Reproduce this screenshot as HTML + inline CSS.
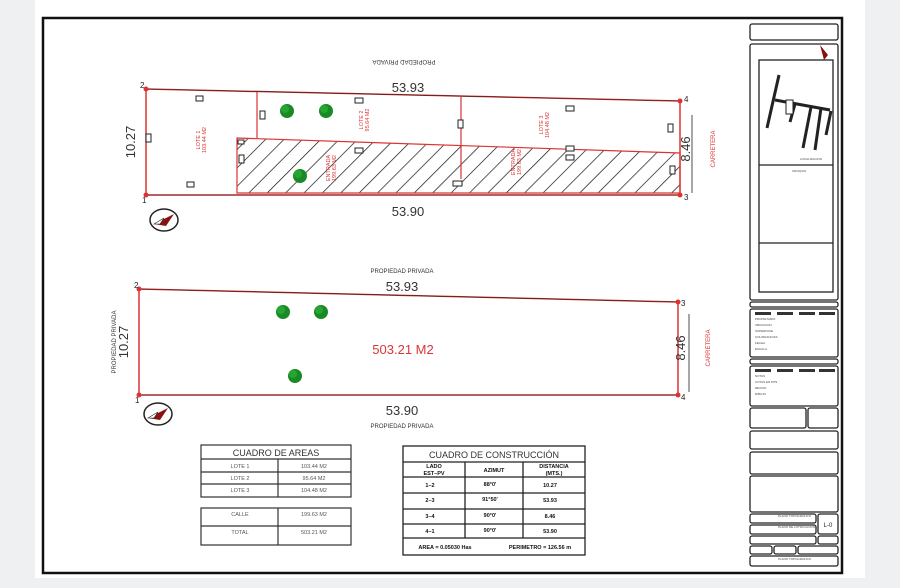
<!DOCTYPE html>
<html><head><style>
body{margin:0;width:900px;height:583px;background:#eef0f2;overflow:hidden;font-family:"Liberation Sans",sans-serif}
</style></head><body>
<svg width="900" height="583" viewBox="0 0 900 583" xmlns="http://www.w3.org/2000/svg" font-family="Liberation Sans, sans-serif">
<defs>
<pattern id="h" width="13" height="13" patternUnits="userSpaceOnUse" patternTransform="rotate(45)">
<line x1="0" y1="0" x2="0" y2="13" stroke="#111" stroke-width="1.4"/></pattern>
<g id="tree"><circle r="7" fill="#1a8a26"/><circle r="4" cx="-2" cy="-2" fill="#27a532"/></g>
<g id="comp"><ellipse rx="14" ry="11" fill="#fff" stroke="#222" stroke-width="1.5"/><path d="M-10 4 L10 -6 L2 6 Z" fill="#8b1010"/><path d="M-10 4 L0 -2 L-4 4Z" fill="#fff" stroke="#222" stroke-width=".6"/></g>
</defs>
<rect x="35" y="0" width="830" height="578" fill="#fff"/>
<rect x="43" y="18" width="799" height="555" fill="none" stroke="#111" stroke-width="2.5"/>

<!-- top drawing -->
<text x="404" y="64" font-size="6" text-anchor="middle" fill="#333" transform="rotate(180 404 62)">PROPIEDAD PRIVADA</text>
<polygon points="237,138 680,153 680,193 237,193" fill="url(#h)" stroke="#d33" stroke-width="1.2"/>
<polygon points="146,89 680,101 680,195 146,195" fill="none" stroke="#d33" stroke-width="1.5"/>
<line x1="146" y1="89" x2="680" y2="101" stroke="#222" stroke-width=".6"/>
<line x1="257" y1="92" x2="257" y2="138" stroke="#d33" stroke-width="1.2"/>
<line x1="461" y1="97" x2="461" y2="179" stroke="#d33" stroke-width="1.2"/>
<line x1="146" y1="195" x2="680" y2="195" stroke="#222" stroke-width=".6"/>
<line x1="692" y1="115" x2="692" y2="193" stroke="#222" stroke-width=".8"/>
<g fill="#d33"><circle cx="146" cy="89" r="2.5"/><circle cx="680" cy="101" r="2.5"/><circle cx="680" cy="195" r="2.5"/><circle cx="146" cy="195" r="2.5"/></g>
<g font-size="8" fill="#222"><text x="140" y="88">2</text><text x="684" y="102">4</text><text x="684" y="200">3</text><text x="142" y="203">1</text></g>
<text x="408" y="92" font-size="13" text-anchor="middle" fill="#333">53.93</text>
<text x="408" y="216" font-size="13" text-anchor="middle" fill="#333">53.90</text>
<text x="135" y="142" font-size="13" text-anchor="middle" fill="#333" transform="rotate(-90 135 142)">10.27</text>
<text x="690" y="149" font-size="13" text-anchor="middle" fill="#333" transform="rotate(-90 690 149)">8.46</text>
<text x="715" y="149" font-size="6" text-anchor="middle" fill="#d33" transform="rotate(-90 715 149)">CARRETERA</text>
<g font-size="5.5" fill="#d33" text-anchor="middle">
<text transform="translate(200,140) rotate(-90)">LOTE 1<tspan x="0" dy="6">103.44 M2</tspan></text>
<text transform="translate(363,120) rotate(-90)">LOTE 2<tspan x="0" dy="6">95.64 M2</tspan></text>
<text transform="translate(543,125) rotate(-90)">LOTE 3<tspan x="0" dy="6">104.48 M2</tspan></text>
<text transform="translate(330,168) rotate(-90)">ENTRADA<tspan x="0" dy="6">199.63 M2</tspan></text>
<text transform="translate(515,162) rotate(-90)">ENTRADA<tspan x="0" dy="6">199.63 M2</tspan></text>
</g>
<g fill="#fff" stroke="#222" stroke-width="1">
<rect x="196" y="96" width="7" height="5"/><rect x="146" y="134" width="5" height="8"/><rect x="187" y="182" width="7" height="5"/>
<rect x="260" y="111" width="5" height="8"/><rect x="355" y="98" width="8" height="5"/><rect x="355" y="148" width="8" height="5"/>
<rect x="238" y="140" width="6" height="4"/><rect x="239" y="155" width="5" height="8"/><rect x="458" y="120" width="5" height="8"/>
<rect x="453" y="181" width="9" height="5"/><rect x="566" y="106" width="8" height="5"/><rect x="566" y="146" width="8" height="5"/>
<rect x="566" y="155" width="8" height="5"/><rect x="668" y="124" width="5" height="8"/><rect x="670" y="166" width="5" height="8"/>
</g>
<use href="#tree" x="287" y="111"/><use href="#tree" x="326" y="111"/><use href="#tree" x="300" y="176"/>
<use href="#comp" x="164" y="220"/>

<!-- bottom drawing -->
<text x="402" y="273" font-size="6" text-anchor="middle" fill="#333">PROPIEDAD PRIVADA</text>
<polygon points="139,289 678,302 678,395 139,395" fill="none" stroke="#d33" stroke-width="1.5"/>
<line x1="139" y1="289" x2="678" y2="302" stroke="#222" stroke-width=".6"/>
<line x1="139" y1="395" x2="678" y2="395" stroke="#222" stroke-width=".6"/>
<line x1="689" y1="314" x2="689" y2="392" stroke="#222" stroke-width=".8"/>
<g fill="#d33"><circle cx="139" cy="289" r="2.5"/><circle cx="678" cy="302" r="2.5"/><circle cx="678" cy="395" r="2.5"/><circle cx="139" cy="395" r="2.5"/></g>
<g font-size="8" fill="#222"><text x="134" y="288">2</text><text x="681" y="306">3</text><text x="681" y="400">4</text><text x="135" y="403">1</text></g>
<text x="402" y="291" font-size="13" text-anchor="middle" fill="#333">53.93</text>
<text x="402" y="415" font-size="13" text-anchor="middle" fill="#333">53.90</text>
<text x="402" y="428" font-size="6" text-anchor="middle" fill="#333">PROPIEDAD PRIVADA</text>
<text x="128" y="342" font-size="13" text-anchor="middle" fill="#333" transform="rotate(-90 128 342)">10.27</text>
<text x="116" y="342" font-size="6" text-anchor="middle" fill="#333" transform="rotate(-90 116 342)">PROPIEDAD PRIVADA</text>
<text x="685" y="348" font-size="13" text-anchor="middle" fill="#333" transform="rotate(-90 685 348)">8.46</text>
<text x="710" y="348" font-size="6" text-anchor="middle" fill="#d33" transform="rotate(-90 710 348)">CARRETERA</text>
<text x="403" y="354" font-size="13" text-anchor="middle" fill="#d33">503.21 M2</text>
<use href="#tree" x="283" y="312"/><use href="#tree" x="321" y="312"/><use href="#tree" x="295" y="376"/>
<use href="#comp" x="158" y="414"/>

<!-- areas tables -->
<g fill="none" stroke="#333" stroke-width="1.2">
<rect x="201" y="445" width="150" height="52"/><line x1="201" y1="459" x2="351" y2="459"/><line x1="201" y1="472" x2="351" y2="472"/><line x1="201" y1="484" x2="351" y2="484"/><line x1="278" y1="459" x2="278" y2="497"/>
<rect x="201" y="508" width="150" height="37"/><line x1="201" y1="526" x2="351" y2="526"/><line x1="278" y1="508" x2="278" y2="545"/>
</g>
<g font-size="5.5" fill="#555" text-anchor="middle">
<text x="276" y="456" font-size="9" fill="#333">CUADRO DE AREAS</text>
<text x="240" y="468">LOTE 1</text><text x="314" y="468">103.44 M2</text>
<text x="240" y="480">LOTE 2</text><text x="314" y="480">95.64 M2</text>
<text x="240" y="492">LOTE 3</text><text x="314" y="492">104.48 M2</text>
<text x="240" y="516">CALLE</text><text x="314" y="516">199.63 M2</text>
<text x="240" y="534">TOTAL</text><text x="314" y="534">503.21 M2</text>
</g>
<g fill="none" stroke="#222" stroke-width="1.3">
<rect x="403" y="446" width="182" height="109"/>
<line x1="403" y1="462" x2="585" y2="462"/><line x1="403" y1="477" x2="585" y2="477"/><line x1="403" y1="493" x2="585" y2="493"/>
<line x1="403" y1="509" x2="585" y2="509"/><line x1="403" y1="524" x2="585" y2="524"/><line x1="403" y1="538" x2="585" y2="538"/>
<line x1="465" y1="462" x2="465" y2="538"/><line x1="523" y1="462" x2="523" y2="538"/>
</g>
<g font-size="5.5" fill="#111" font-weight="bold" text-anchor="middle">
<text x="494" y="458" font-size="9" font-weight="normal" fill="#333">CUADRO DE CONSTRUCCIÓN</text>
<text x="434" y="468">LADO</text><text x="434" y="475">EST–PV</text><text x="494" y="472">AZIMUT</text><text x="554" y="468">DISTANCIA</text><text x="554" y="475">(MTS.)</text>
<text x="430" y="487">1–2</text><text x="490" y="486">88°0'</text><text x="550" y="487">10.27</text>
<text x="430" y="502">2–3</text><text x="490" y="501">91°50'</text><text x="550" y="502">53.93</text>
<text x="430" y="518">3–4</text><text x="490" y="517">90°0'</text><text x="550" y="518">8.46</text>
<text x="430" y="533">4–1</text><text x="490" y="532">90°0'</text><text x="550" y="533">53.90</text>
<text x="445" y="549">AREA = 0.05030 Has</text><text x="540" y="549">PERIMETRO = 126.56 m</text>
</g>

<!-- title block -->
<g fill="none" stroke="#222" stroke-width="1.3">
<rect x="750" y="24" width="88" height="16" rx="2"/>
<rect x="750" y="44" width="88" height="256" rx="2"/>
<rect x="759" y="60" width="74" height="232"/>
<line x1="759" y1="165" x2="833" y2="165"/><line x1="759" y1="243" x2="833" y2="243"/>
<rect x="750" y="302" width="88" height="5" rx="2"/>
<rect x="750" y="309" width="88" height="48" rx="2"/>
<rect x="750" y="359" width="88" height="5" rx="2"/>
<rect x="750" y="366" width="88" height="40" rx="2"/>
<rect x="750" y="408" width="56" height="20" rx="2"/><rect x="808" y="408" width="30" height="20" rx="2"/>
<rect x="750" y="431" width="88" height="18" rx="2"/>
<rect x="750" y="452" width="88" height="22" rx="2"/>
<rect x="750" y="476" width="88" height="36" rx="2"/>
<rect x="750" y="514" width="66" height="9" rx="2"/><rect x="750" y="525" width="66" height="9" rx="2"/>
<rect x="818" y="514" width="20" height="20" rx="2"/>
<rect x="750" y="536" width="66" height="8" rx="2"/><rect x="818" y="536" width="20" height="8" rx="2"/>
<rect x="750" y="546" width="22" height="8" rx="2"/><rect x="774" y="546" width="22" height="8" rx="2"/><rect x="798" y="546" width="40" height="8" rx="2"/>
<rect x="750" y="556" width="88" height="10" rx="2"/>
</g>
<g stroke="#222" stroke-width="3">
<line x1="779" y1="75" x2="767" y2="128"/><line x1="775" y1="100" x2="830" y2="110"/>
<line x1="795" y1="104" x2="790" y2="122"/><line x1="811" y1="107" x2="803" y2="148"/><line x1="821" y1="108" x2="815" y2="150"/><line x1="831" y1="111" x2="826" y2="135"/>
</g>
<rect x="786" y="100" width="7" height="14" fill="#fff" stroke="#222"/>
<path d="M820 45 L828 55 L824 60 Z" fill="#8b1010"/>
<g fill="#333">
<rect x="755" y="312" width="16" height="3"/><rect x="777" y="312" width="16" height="3"/><rect x="799" y="312" width="16" height="3"/><rect x="819" y="312" width="16" height="3"/>
<rect x="755" y="369" width="16" height="3"/><rect x="777" y="369" width="16" height="3"/><rect x="799" y="369" width="16" height="3"/><rect x="819" y="369" width="16" height="3"/>
</g>
<g font-size="3" fill="#444">
<text x="755" y="320">PROPIETARIO</text><text x="755" y="326">UBICACION</text><text x="755" y="332">SUPERFICIE</text><text x="755" y="338">COLINDANCIAS</text><text x="755" y="344">FECHA</text><text x="755" y="350">ESCALA</text>
<text x="755" y="377">NOTAS</text><text x="755" y="383">COTAS EN MTS</text><text x="755" y="389">REVISO</text><text x="755" y="395">DIBUJO</text>
<text x="792" y="172">CROQUIS</text><text x="800" y="160">LOCALIZACION</text>
<text x="778" y="517">PLANO TOPOGRAFICO</text><text x="778" y="528">PLANO DE LOTIFICACION</text><text x="778" y="560">PLANO TOPOGRAFICO</text>
</g>
<text x="828" y="527" font-size="6" text-anchor="middle" fill="#222">L-0</text>
</svg>
</body></html>
